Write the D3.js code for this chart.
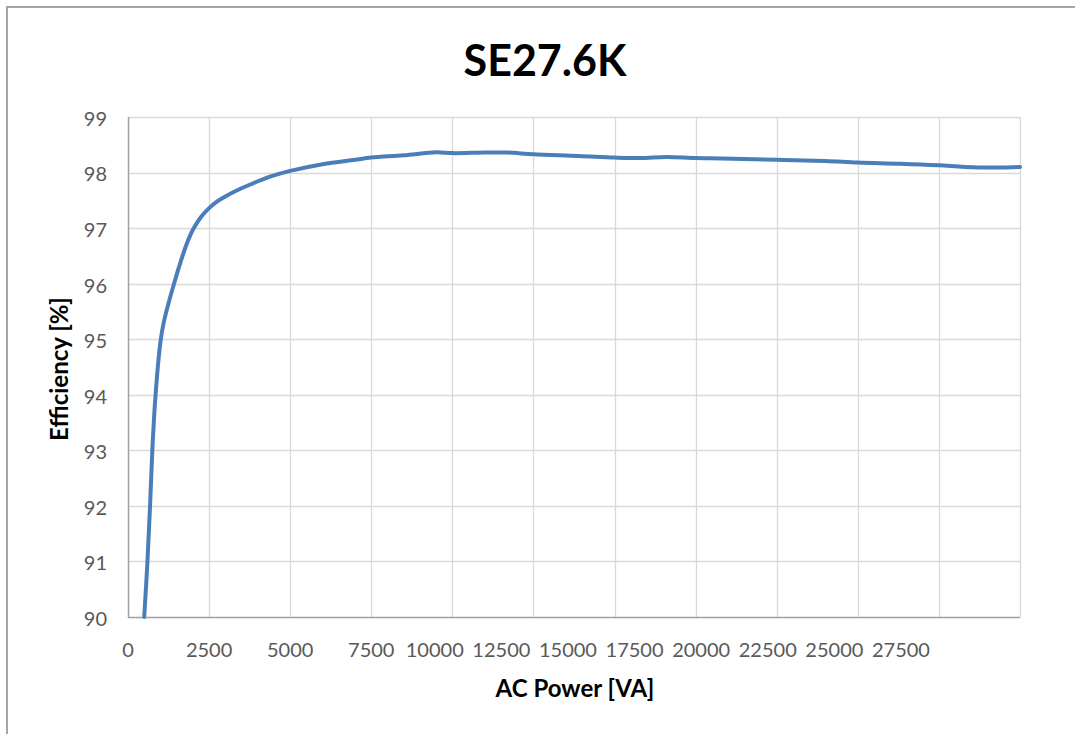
<!DOCTYPE html>
<html>
<head>
<meta charset="utf-8">
<script src="https://cdn.jsdelivr.net/npm/d3@7"></script>
<style>
  html, body { margin: 0; padding: 0; background: #fff; }
  svg { display: block; }
</style>
</head>
<body>
<svg id="chart" width="1075" height="734"></svg>
<script>
// ---- data ----
const title = "SE27.6K";
const xTitle = "AC Power [VA]";
const yTitle = "Efficiency [%]";
const acPower = [500, 600, 680, 750, 850, 1000, 1100, 1250, 1420, 1600, 1800, 2000, 2250, 2500, 2750, 3000, 3400, 3750, 4400, 5000, 6000, 7000, 7500, 8500, 9500, 10000, 11000, 11700, 12500, 13900, 15000, 15800, 16600, 17500, 18300, 20000, 21500, 22500, 23800, 25000, 25800, 26900, 27500];
const efficiency = [90.0, 91.0, 92.0, 93.0, 94.0, 94.95, 95.3, 95.65, 96.0, 96.35, 96.7, 96.97, 97.2, 97.36, 97.48, 97.57, 97.69, 97.78, 97.93, 98.03, 98.15, 98.23, 98.27, 98.31, 98.365, 98.35, 98.36, 98.36, 98.33, 98.30, 98.27, 98.26, 98.28, 98.26, 98.255, 98.23, 98.21, 98.18, 98.16, 98.13, 98.10, 98.09, 98.10];
const xTicks = [0, 2500, 5000, 7500, 10000, 12500, 15000, 17500, 20000, 22500, 25000, 27500];
const yTicks = [90, 91, 92, 93, 94, 95, 96, 97, 98, 99];

// ---- layout ----
const W = 1075, H = 734;
const plot = { left: 128, right: 1020, top: 117, bottom: 617 };
const svg = d3.select("#chart");
const font = "Lato, 'Open Sans', sans-serif";

// outer border
svg.append("path")
  .attr("d", `M7,${H + 5} L7,7 L${W + 5},7`)
  .attr("fill", "none").attr("stroke", "#a6a6a6").attr("stroke-width", 2);

const x = d3.scaleLinear().domain([0, 27500]).range([plot.left, plot.right]);
const y = d3.scaleLinear().domain([90, 99]).range([plot.bottom, plot.top]);

// gridlines
const grid = svg.append("g");
grid.selectAll("line.h").data(yTicks.slice(1)).join("line")
  .attr("x1", plot.left).attr("x2", plot.right)
  .attr("y1", d => Math.round(y(d)) + 0.5).attr("y2", d => Math.round(y(d)) + 0.5)
  .attr("stroke", "#d9d9d9").attr("stroke-width", 1.3);
grid.selectAll("line.v").data(xTicks.slice(1)).join("line")
  .attr("x1", d => Math.round(x(d)) + 0.5).attr("x2", d => Math.round(x(d)) + 0.5)
  .attr("y1", plot.top).attr("y2", plot.bottom)
  .attr("stroke", "#d9d9d9").attr("stroke-width", 1.3);

// axes lines
svg.append("line").attr("x1", plot.left + 0.5).attr("x2", plot.left + 0.5)
  .attr("y1", plot.top).attr("y2", plot.bottom + 0.5)
  .attr("stroke", "#a0a0a0").attr("stroke-width", 1.5);
svg.append("line").attr("x1", plot.left).attr("x2", plot.right)
  .attr("y1", plot.bottom + 0.5).attr("y2", plot.bottom + 0.5)
  .attr("stroke", "#a0a0a0").attr("stroke-width", 1.5);

// y tick labels via d3 axis
const yAxis = d3.axisLeft(y).tickValues(yTicks).tickSize(0).tickPadding(21);
const gy = svg.append("g").attr("transform", `translate(${plot.left},0)`).call(yAxis);
gy.select(".domain").remove();
gy.selectAll("text").attr("font-family", font).attr("font-size", 20)
  .attr("fill", "#595959").attr("dy", "0.42em");

// x tick labels via d3 axis (labels crowd together past 7500 as in the reference)
const xAxis = d3.axisBottom(x).tickValues(xTicks).tickSize(0).tickPadding(26).tickFormat(d3.format("d"));
const gx = svg.append("g").attr("transform", `translate(0,${plot.bottom})`).call(xAxis);
gx.select(".domain").remove();
const labelStep = 66.6;
gx.selectAll(".tick").attr("transform", (d, i) => {
  const px = i < 4 ? x(d) : x(7500) + 63.5 + (i - 4) * labelStep;
  return `translate(${px},0)`;
});
gx.selectAll("text").attr("font-family", font).attr("font-size", 20)
  .attr("fill", "#595959").attr("dy", "0.71em");

// line
const line = d3.line()
  .x((d, i) => x(acPower[i]))
  .y(d => y(d))
  .curve(d3.curveCatmullRom.alpha(0.5));
svg.append("path").datum(efficiency)
  .attr("d", line)
  .attr("fill", "none")
  .attr("stroke", "#4a7ebb")
  .attr("stroke-width", 4)
  .attr("stroke-linecap", "round")
  .attr("stroke-linejoin", "round");

// titles
svg.append("text").text(title)
  .attr("x", 545).attr("y", 76)
  .attr("text-anchor", "middle")
  .attr("font-family", font).attr("font-weight", "bold").attr("font-size", 43)
  .attr("fill", "#000");
svg.append("text").text(xTitle)
  .attr("x", 575).attr("y", 697)
  .attr("text-anchor", "middle")
  .attr("font-family", font).attr("font-weight", "bold").attr("font-size", 24)
  .attr("fill", "#000");
svg.append("text").text(yTitle)
  .attr("transform", `translate(68,369) rotate(-90)`)
  .attr("text-anchor", "middle")
  .attr("font-family", font).attr("font-weight", "bold").attr("font-size", 24)
  .attr("fill", "#000");
</script>
</body>
</html>
